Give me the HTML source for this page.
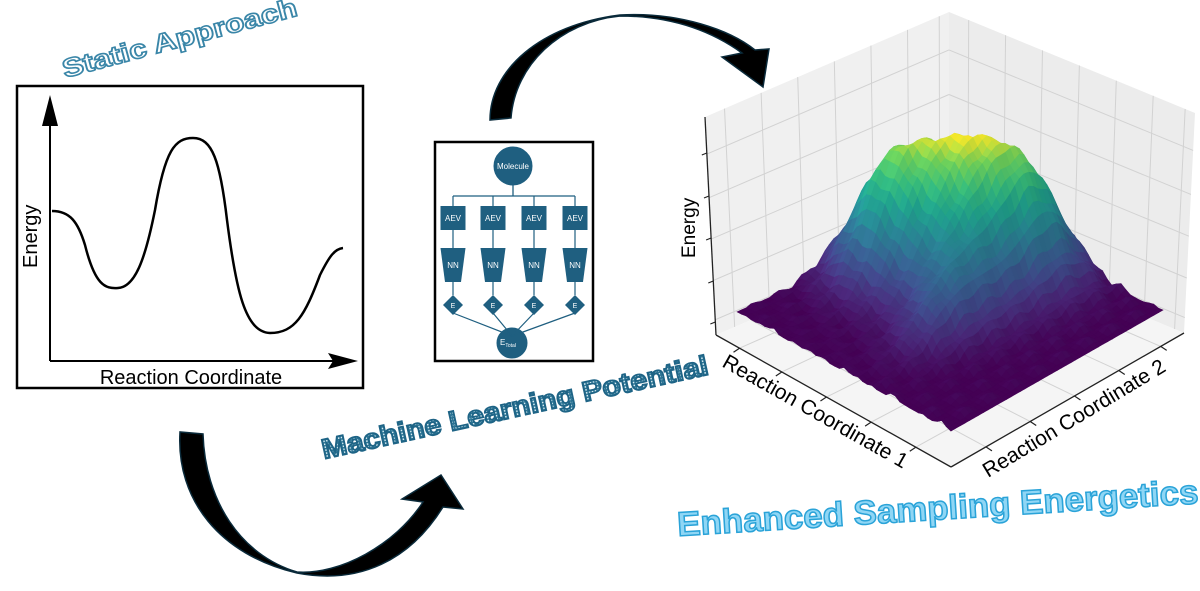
<!DOCTYPE html>
<html><head><meta charset="utf-8"><style>
html,body{margin:0;padding:0;background:#fff;}
svg{display:block;}
text{font-family:"Liberation Sans",sans-serif;}
</style></head><body>
<svg id="s" width="1200" height="591" viewBox="0 0 1200 591" xmlns="http://www.w3.org/2000/svg">
<defs>
<pattern id="hatch" width="3" height="3" patternUnits="userSpaceOnUse">
<rect width="3" height="3" fill="#2b7494"/><rect width="1.5" height="1.5" fill="#d8ecf3"/>
</pattern>
</defs>
<polygon points="705,117 949,12 949,235 716,335" fill="#f0f0f0"/>
<polygon points="949,12 1195,113 1184,333 949,235" fill="#ececec"/>
<polygon points="949,235 716,335 951,467 1184,333" fill="#f5f5f5"/>
<g id="grid" stroke="#d2d2d2" stroke-width="1" fill="none"></g>
<g id="surf"></g>
<g stroke="#222" stroke-width="1.3" fill="none">
<line x1="705" y1="117" x2="716" y2="335"/>
<line x1="716" y1="335" x2="951" y2="467"/>
<line x1="951" y1="467" x2="1184" y2="333"/>
</g>
<g id="ticks" stroke="#222" stroke-width="1.2"></g>
<text x="0" y="0" font-size="19" transform="translate(695,258) rotate(-90)">Energy</text>
<text x="0" y="0" font-size="21" transform="translate(721,366) rotate(29.5)">Reaction Coordinate 1</text>
<text x="0" y="0" font-size="21" transform="translate(988,478) rotate(-31)">Reaction Coordinate 2</text>

<rect x="17" y="86" width="346" height="302" fill="none" stroke="#000" stroke-width="2.5"/>
<line x1="50" y1="361" x2="50" y2="118" stroke="#000" stroke-width="2"/>
<polygon points="50,95 42,126 58,126" fill="#000"/>
<line x1="50" y1="361" x2="335" y2="361" stroke="#000" stroke-width="2"/>
<polygon points="358,361 328,353 333,361 328,369" fill="#000"/>
<path d="M52,211 C70,211 78,222 85,245 C95,285 105,289 118,288 C135,287 145,260 155,210 C165,150 175,138 193,138 C212,138 220,160 227,220 C236,290 245,332 270,333 C295,333 305,315 320,275 C330,255 335,249 343,248" fill="none" stroke="#000" stroke-width="2.5"/>
<text font-size="20" transform="translate(37,268) rotate(-90)">Energy</text>
<text x="191" y="384" font-size="20" text-anchor="middle">Reaction Coordinate</text>

<rect x="435" y="142" width="158" height="219" fill="#fff" stroke="#000" stroke-width="2.5"/>
<g fill="#1f5f80" stroke="#1f5f80">
<circle cx="513" cy="166" r="19"/>
<line x1="513" y1="185" x2="513" y2="196" stroke-width="1.3"/>
<line x1="453" y1="196" x2="575" y2="196" stroke-width="1.3"/>
<circle cx="512" cy="343" r="15"/>
</g>
<g id="cols"></g>
<text x="513" y="169" font-size="8" fill="#fff" text-anchor="middle">Molecule</text>
<text x="508" y="345" font-size="8" fill="#fff" text-anchor="middle">E<tspan font-size="5" dy="2">Total</tspan></text>

<path d="M490,120 C490,70 540,25 620,15 C680,12 730,30 755,50 L769,49 L763,87 L722,57 L742,53 C710,30 670,16 620,16 C560,22 515,65 511,118 Z" fill="#000" stroke="#0a2a3a" stroke-width="1.5"/>
<path d="M180,432 C176,500 220,555 297,573 C360,585 410,560 443,507 L463,509 L441,475 L402,499 L423,502 C395,545 340,575 297,572 C240,555 205,500 203,434 Z" fill="#000" stroke="#0a2a3a" stroke-width="1.5"/>

<text font-size="26" font-weight="bold" fill="#fff" stroke="#3a86a8" stroke-width="1.6" textLength="242" lengthAdjust="spacingAndGlyphs" transform="translate(65,78) rotate(-15)">Static Approach</text>
<text font-size="28" font-weight="bold" fill="url(#hatch)" stroke="#1e6486" stroke-width="1.8" textLength="395" lengthAdjust="spacingAndGlyphs" transform="translate(324,459) rotate(-12.4)">Machine Learning Potential</text>
<text font-size="34" font-weight="bold" fill="#8fd6f5" stroke="#2aa3d8" stroke-width="1.5" textLength="522" lengthAdjust="spacingAndGlyphs" transform="translate(678,536) rotate(-3.6)">Enhanced Sampling Energetics</text>
</svg>
<script>
(function(){
var NS="http://www.w3.org/2000/svg";
function el(p,t,a){var e=document.createElementNS(NS,t);for(var k in a)e.setAttribute(k,a[k]);p.appendChild(e);return e;}
var B=[949,235],L=[716,335],F=[951,467],R=[1184,333];
function fl(u,v){return [(1-u)*(1-v)*B[0]+u*(1-v)*L[0]+u*v*F[0]+(1-u)*v*R[0],(1-u)*(1-v)*B[1]+u*(1-v)*L[1]+u*v*F[1]+(1-u)*v*R[1]];}
var g=document.getElementById('grid');
function lerp(a,b,t){return [a[0]+(b[0]-a[0])*t,a[1]+(b[1]-a[1])*t];}
var T=[949,12],LT=[705,117],RT=[1195,113];
[0.08,0.23,0.38,0.53,0.68,0.83,0.96].forEach(function(t){var a=lerp(LT,T,t),b=lerp(L,B,t);el(g,'line',{x1:a[0],y1:a[1],x2:b[0],y2:b[1]});
var c=lerp(T,RT,t),d=lerp(B,R,t);el(g,'line',{x1:c[0],y1:c[1],x2:d[0],y2:d[1]});});
[0.17,0.37,0.56,0.75,0.93].forEach(function(t){var a=lerp(LT,L,t),b=lerp(T,B,t);el(g,'line',{x1:a[0],y1:a[1],x2:b[0],y2:b[1]});
var c=lerp(RT,R,t);el(g,'line',{x1:b[0],y1:b[1],x2:c[0],y2:c[1]});});
[0.1,0.28,0.47,0.66,0.85].forEach(function(t){var a=fl(t,0),b=fl(t,1);el(g,'line',{x1:a[0],y1:a[1],x2:b[0],y2:b[1]});
var c=fl(0,t),d=fl(1,t);el(g,'line',{x1:c[0],y1:c[1],x2:d[0],y2:d[1]});});
var tk=document.getElementById('ticks');
[153,196,238,281,322].forEach(function(y){var x=705+(y-117)*11/218;el(tk,'line',{x1:x-5,y1:y+2,x2:x,y2:y});});
[0.1,0.28,0.47,0.66,0.85].forEach(function(t){var a=fl(t,1);el(tk,'line',{x1:a[0],y1:a[1],x2:a[0]+6,y2:a[1]+4});
var b=fl(1,t);el(tk,'line',{x1:b[0],y1:b[1],x2:b[0]-6,y2:b[1]+4});});
function g2(u,v,cu,cv,su,sv){return Math.exp(-((u-cu)*(u-cu)/su+(v-cv)*(v-cv)/sv));}
function h(u,v){
var z=100*g2(u,v,0.4,0.42,0.05,0.05)+80*g2(u,v,0.2,0.55,0.02,0.025)+85*g2(u,v,0.5,0.22,0.025,0.02)+40*g2(u,v,0.32,0.38,0.02,0.03)
+35*g2(u,v,0.62,0.6,0.03,0.01);
z+=4*Math.sin(u*60+v*13)*Math.cos(v*47)+2*Math.sin(v*90);
return Math.max(z,0);}
var st=[[0,68,1,84],[.13,72,40,120],[.25,62,73,137],[.38,49,104,142],[.5,38,130,142],[.63,31,158,137],[.75,53,183,121],[.88,110,206,88],[1,253,231,37]];
function vir(t){t=Math.max(0,Math.min(1,t));for(var i=1;i<st.length;i++){if(t<=st[i][0]){var a=st[i-1],b=st[i],f=(t-a[0])/(b[0]-a[0]);return [a[1]+(b[1]-a[1])*f,a[2]+(b[2]-a[2])*f,a[3]+(b[3]-a[3])*f];}}return [253,231,37];}
var N=46,u0=0.06,u1=0.97,P=[],H=[],BASE=28;
for(var i=0;i<=N;i++){P[i]=[];H[i]=[];for(var j=0;j<=N;j++){var u=u0+(u1-u0)*i/N,v=u0+(u1-u0)*j/N,z=h(u,v),f=fl(u,v);H[i][j]=z;P[i][j]=[f[0],f[1]-z-BASE];}}
var mx=0;for(var i=0;i<=N;i++)for(var j=0;j<=N;j++)mx=Math.max(mx,H[i][j]);
var q=[];for(var i=0;i<N;i++)for(var j=0;j<N;j++)q.push([i,j]);
q.sort(function(a,b){return (a[0]+a[1])-(b[0]+b[1]);});
var s=document.getElementById('surf');
q.forEach(function(k){var i=k[0],j=k[1];var z=(H[i][j]+H[i+1][j]+H[i][j+1]+H[i+1][j+1])/4;
var c=vir(z/mx);var sh=1+(H[i][j+1]-H[i+1][j])*0.006;sh=Math.max(0.8,Math.min(1.15,sh));
var col='rgb('+Math.round(Math.min(255,c[0]*sh))+','+Math.round(Math.min(255,c[1]*sh))+','+Math.round(Math.min(255,c[2]*sh))+')';
var pts=[P[i][j],P[i+1][j],P[i+1][j+1],P[i][j+1]].map(function(p){return p[0].toFixed(1)+','+p[1].toFixed(1);}).join(' ');
el(s,'polygon',{points:pts,fill:col,stroke:col,'stroke-width':0.6});});
var cg=document.getElementById('cols');
[453,493,534,575].forEach(function(x){
var c='#1f5f80';
el(cg,'line',{x1:x,y1:196,x2:x,y2:206,stroke:c,'stroke-width':1.2});
el(cg,'rect',{x:x-12.5,y:206,width:25,height:24,fill:c});
el(cg,'line',{x1:x,y1:230,x2:x,y2:248,stroke:c,'stroke-width':1.2});
el(cg,'polygon',{points:(x-12.5)+',248 '+(x+12.5)+',248 '+(x+8)+',282 '+(x-8)+',282',fill:c});
el(cg,'line',{x1:x,y1:282,x2:x,y2:295,stroke:c,'stroke-width':1.2});
el(cg,'polygon',{points:x+',295 '+(x+10)+',305 '+x+',315 '+(x-10)+',305',fill:c});
el(cg,'line',{x1:x,y1:313,x2:512,y2:336,stroke:c,'stroke-width':1.2});
var t=el(cg,'text',{x:x,y:221,'font-size':8,fill:'#fff','text-anchor':'middle'});t.textContent='AEV';
t=el(cg,'text',{x:x,y:268,'font-size':8,fill:'#fff','text-anchor':'middle'});t.textContent='NN';
t=el(cg,'text',{x:x,y:308,'font-size':7,fill:'#fff','text-anchor':'middle'});t.textContent='E';
});
})();
</script>
</body></html>
